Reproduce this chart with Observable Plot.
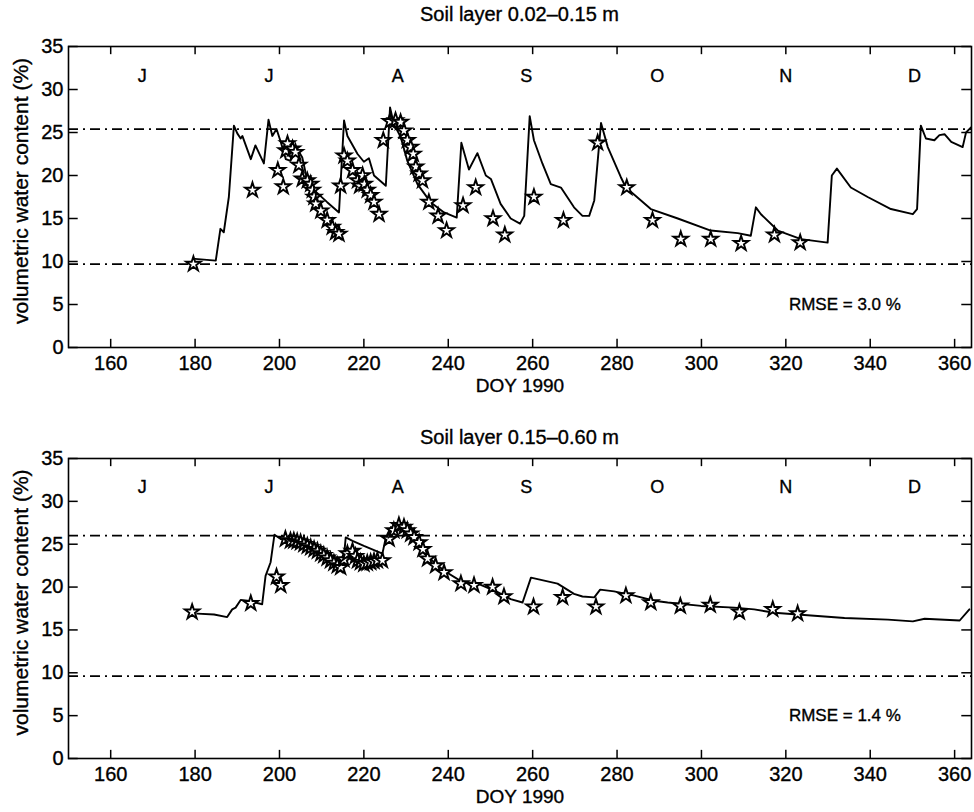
<!DOCTYPE html>
<html><head><meta charset="utf-8">
<script src="https://cdn.jsdelivr.net/npm/d3@7"></script>
<script src="https://cdn.jsdelivr.net/npm/@observablehq/plot@0.6"></script>
<style>
html,body{margin:0;padding:0;background:#fff;overflow:hidden;}
#wrap{position:relative;width:974px;height:812px;font-family:"Liberation Sans",Arial,sans-serif;}
.title{position:absolute;left:68px;width:903px;text-align:center;font-size:20px;line-height:24px;color:#000;-webkit-text-stroke:0.35px #000;}
.panel{position:absolute;left:0;}
.panel svg text{stroke:#000;stroke-width:0.35px;}
</style></head><body>
<div id="wrap">
<div class="title" style="top:2px">Soil layer 0.02–0.15 m</div>
<div class="panel" id="p1" style="top:28px"></div>
<div class="title" style="top:425px">Soil layer 0.15–0.60 m</div>
<div class="panel" id="p2" style="top:446px"></div>
</div>
<script>
// ---- axis / labels ----
const xTicks = [160, 180, 200, 220, 240, 260, 280, 300, 320, 340, 360];
const yTicks = [0, 5, 10, 15, 20, 25, 30, 35];
const monthLabels = ["J", "J", "A", "S", "O", "N", "D"];
const monthMidDoy = [167.5, 197.5, 228, 258.5, 289.5, 320, 350.5];
const xLabel = "DOY 1990";
const yLabel = "volumetric water content (%)";

// ---- panel 1: soil layer 0.02-0.15 m ----
const simDoy1 = [180,184.9,186,186.8,188,189.2,190,190.8,191.2,193.2,194.3,196.3,197.4,198.3,199.3,200.3,201.5,202.6,204.2,205.4,206.6,208.2,211.3,214.1,215.3,216.1,218.5,220,221.2,222.4,225.2,226.2,227.1,228.7,230.3,232.7,235.8,239,242,243.1,244.9,246.9,248.9,250.1,252.4,254.8,257,258,259.3,260.3,262.3,264.3,266.7,269.8,271.8,273.4,274.6,276.2,277.8,280.9,282.1,288,294.4,302.2,308.6,311.7,312.9,314.1,318.1,323.6,329.9,330.9,332.1,335.4,339.4,344.9,350.1,351.1,352,353.2,355.2,356.4,357.6,359.2,361.9,362.7,363.9];
const simVal1 = [10.3,10.1,13.8,13.4,17.5,25.8,24.9,24.3,24.6,21.9,23.5,21.4,26.5,24.6,25.4,23.9,21.9,21.7,23.1,22.1,19.4,18.3,16.9,15.7,26.4,24.6,22.5,21.6,22.0,20.0,18.8,27.9,26.0,24.5,21.7,19.0,16.9,15.7,15.1,23.8,20.7,22.6,20.0,19.6,16.7,15.0,14.4,15.3,26.9,24.1,21.4,19.0,18.6,16.3,15.3,15.3,17.1,26.1,23.3,19.8,18.6,16.1,15.0,13.6,13.3,13.0,16.3,15.5,13.6,12.6,12.2,20.0,20.8,18.6,17.5,16.1,15.5,16.1,25.8,24.3,24.1,24.7,24.8,23.9,23.3,25.0,25.6];
const obsDoy1 = [179.6,193.6,199.6,200.9,201.5,201.9,203.1,203.8,204.6,205.4,206.6,207.4,207.8,208.2,208.6,209.8,211.3,212.5,213.3,214.1,214.5,215.3,216.1,217.3,218.5,219.0,219.7,220.1,220.8,221.6,222.4,223.6,224.6,226.2,227.5,228.7,229.5,230.3,231.1,231.7,232.3,233.1,233.9,235.4,237.6,239.6,243.5,246.5,250.6,253.4,260.3,267.3,275.4,282.3,288.4,295.1,302.2,309.4,317.3,323.4];
const obsVal1 = [9.7,18.3,20.6,18.7,22.9,23.7,23.1,22.7,21.2,19.6,19.4,19.0,18.3,17.5,16.7,15.9,14.8,14.0,13.4,13.2,18.8,22.3,21.7,20.6,19.4,18.8,20.0,19.0,18.3,17.7,16.9,15.5,24.1,26.3,26.4,26.2,25.2,24.1,23.3,22.5,21.0,20.2,19.4,16.9,15.3,13.6,16.5,18.6,15.0,13.1,17.5,14.8,23.8,18.6,14.8,12.6,12.6,12.1,13.1,12.2];
const refLines1 = [25.4, 9.7];
const rmse1 = "RMSE = 3.0 %";

// ---- panel 2: soil layer 0.15-0.60 m ----
const simDoy2 = [180.5,184.5,187.6,188.8,189.6,190.8,192.4,195.9,196.7,197.9,198.8,200.3,205.8,209.8,213.7,215.3,215.7,217.3,220,224.4,225.2,226.4,229.5,231.1,234.3,239,243,247,251.7,254.8,257.6,259.6,265.9,269.8,271.8,274.6,276,279.3,284.1,288.8,292,299.9,307.8,312.5,317.3,322.8,333.9,344.2,350.1,352.9,361.2,363.5];
const simVal2 = [16.9,16.8,16.5,17.4,17.6,18.5,18.4,18.0,21.3,22.9,26.1,25.6,25.0,24.1,22.9,23.7,25.8,25.4,24.8,23.9,25.8,27.0,26.8,25.8,23.9,21.9,20.7,20.4,19.4,18.6,18.2,21.1,20.4,19.2,18.9,18.8,19.7,19.5,19.0,18.4,18.2,17.8,17.6,17.4,17.0,16.8,16.4,16.2,16.0,16.3,16.1,17.4];
const obsDoy2 = [179.3,193.2,199.3,200.3,201.4,202.6,203.4,204.2,205.0,205.8,206.6,207.4,208.2,209.0,209.8,210.5,211.3,212.1,212.9,213.7,214.5,215.3,216.1,217.3,218.0,218.5,219.2,220.0,220.8,221.6,222.4,223.2,224.4,226.0,227.1,228.3,229.5,230.3,231.1,231.9,233.1,234.0,235.1,237.0,239.0,243.0,246.1,250.5,253.2,260.2,267.1,275.0,282.1,288.0,295.0,302.1,309.0,316.9,322.8];
const obsVal2 = [17.1,18.1,21.2,20.2,25.6,25.4,25.4,25.3,25.2,25.0,24.8,24.6,24.4,24.2,23.9,23.7,23.4,23.1,22.8,22.5,22.3,23.2,23.9,24.2,23.6,23.1,22.9,22.7,22.8,22.9,23.0,23.1,23.1,25.6,26.6,27.2,27.0,26.6,26.2,25.8,25.2,24.4,23.3,22.5,21.7,20.4,20.2,20.0,18.9,17.7,18.8,17.7,19.0,18.2,17.8,17.9,17.1,17.4,16.9];
const refLines2 = [26.0, 9.6];
const rmse2 = "RMSE = 1.4 %";

const FONT = "Liberation Sans, Arial, sans-serif";
const XMIN = 150, XMAX = 364, YMIN = 0, YMAX = 35;

function panel(simDoy, simVal, obsDoy, obsVal, refLines, rmse, height, marginTop, marginBottom) {
  const sim = simDoy.map((d, i) => ({doy: d, v: simVal[i]}));
  const obs = obsDoy.map((d, i) => ({doy: d, v: obsVal[i]}));
  const months = monthLabels.map((m, i) => ({m, doy: monthMidDoy[i]}));
  return Plot.plot({
    width: 974, height, marginTop, marginBottom, marginLeft: 68, marginRight: 3,
    style: {fontFamily: FONT, fontSize: "20px", color: "black", background: "white", overflow: "visible"},
    x: {domain: [XMIN, XMAX]},
    y: {domain: [YMIN, YMAX]},
    marks: [
      Plot.ruleY(refLines, {stroke: "black", strokeWidth: 1.7, strokeDasharray: "10,5,2,5"}),
      Plot.line(sim, {x: "doy", y: "v", stroke: "black", strokeWidth: 1.9}),
      Plot.dot(obs, {x: "doy", y: "v", symbol: "star", r: 4.6, fill: "white", stroke: "black", strokeWidth: 1.9}),
      Plot.frame({stroke: "black", strokeWidth: 1.6}),
      // inward ticks (bottom/top/left/right)
      Plot.ruleX(xTicks, {x: d => d, y1: YMIN, y2: YMIN + 0.95, stroke: "black", strokeWidth: 1.5}),
      Plot.ruleX(xTicks, {x: d => d, y1: YMAX - 0.95, y2: YMAX, stroke: "black", strokeWidth: 1.5}),
      Plot.ruleY(yTicks, {y: d => d, x1: XMIN, x2: XMIN + 2.3, stroke: "black", strokeWidth: 1.5}),
      Plot.ruleY(yTicks, {y: d => d, x1: XMAX - 2.3, x2: XMAX, stroke: "black", strokeWidth: 1.5}),
      Plot.axisX(xTicks, {tickSize: 0, tickPadding: 8, fontSize: 20, label: null}),
      Plot.axisY(yTicks, {tickSize: 0, tickPadding: 5, fontSize: 20, label: null}),
      Plot.text([xLabel], {frameAnchor: "bottom", dy: 44, fontSize: 19, fill: "black"}),
      Plot.text([yLabel], {frameAnchor: "left", textAnchor: "middle", dx: -47, dy: -6, rotate: -90, fontSize: 21, fill: "black"}),
      Plot.text(months, {x: "doy", y: 31.6, text: "m", fontSize: 18, fill: "black"}),
      Plot.text([rmse], {x: 334, y: 5, fontSize: 17, fill: "black"})
    ]
  });
}

document.getElementById("p1").appendChild(panel(simDoy1, simVal1, obsDoy1, obsVal1, refLines1, rmse1, 374, 18, 55));
document.getElementById("p2").appendChild(panel(simDoy2, simVal2, obsDoy2, obsVal2, refLines2, rmse2, 366, 12, 54));
</script>
</body></html>
